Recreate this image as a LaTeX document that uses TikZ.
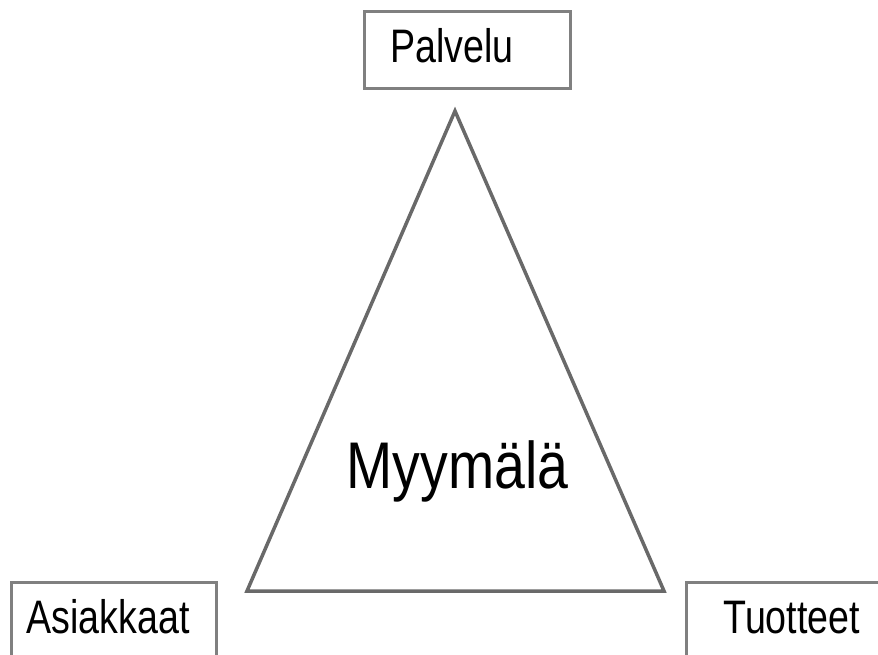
\documentclass[tikz,border=0pt]{standalone}
\usepackage{fontspec}
\setmainfont{Liberation Sans}
\newfontfamily\narrowsans[FakeStretch=0.8]{Liberation Sans}
\newfontfamily\titlesans[FakeStretch=0.84]{Liberation Sans}
\usepackage{xcolor}
\usepackage{tikz}
\usetikzlibrary{positioning}

\definecolor{boxgray}{RGB}{128,128,128}
\definecolor{linegray}{RGB}{105,105,105}

\begin{document}
\begin{tikzpicture}[
  x=1pt, y=-1pt,
  box/.style={draw=boxgray, line width=3pt, fill=white, align=left, anchor=north west,
    font=\narrowsans\fontsize{47}{50}\selectfont, text height=34pt, text depth=9pt, inner ysep=17pt},
  title/.style={font=\titlesans\fontsize{66}{70}\selectfont, text height=47pt, text depth=0pt, inner sep=0pt},
  edge/.style={draw=linegray, line width=3.5pt, line join=miter}
]
\clip (0,0) rectangle (878,655);

% the three corners of the triangle
\coordinate (apex) at (455,111);
\coordinate (left) at (247,591);
\coordinate (right) at (664,591);
\draw[edge] (apex) -- (left) -- (right) -- cycle;

\node[title] (shop) at (457.5,464.5) {Myymälä};

\node[box, inner xsep=26pt, text width=154pt] (service) at (363,10) {Palvelu};
\node[box, inner xsep=15pt, text width=175pt] (customers) at (10,581) {Asiakkaat};
\node[box, inner xsep=37pt, text width=180pt] (products) at (685,581) {Tuotteet};

\end{tikzpicture}
\end{document}
